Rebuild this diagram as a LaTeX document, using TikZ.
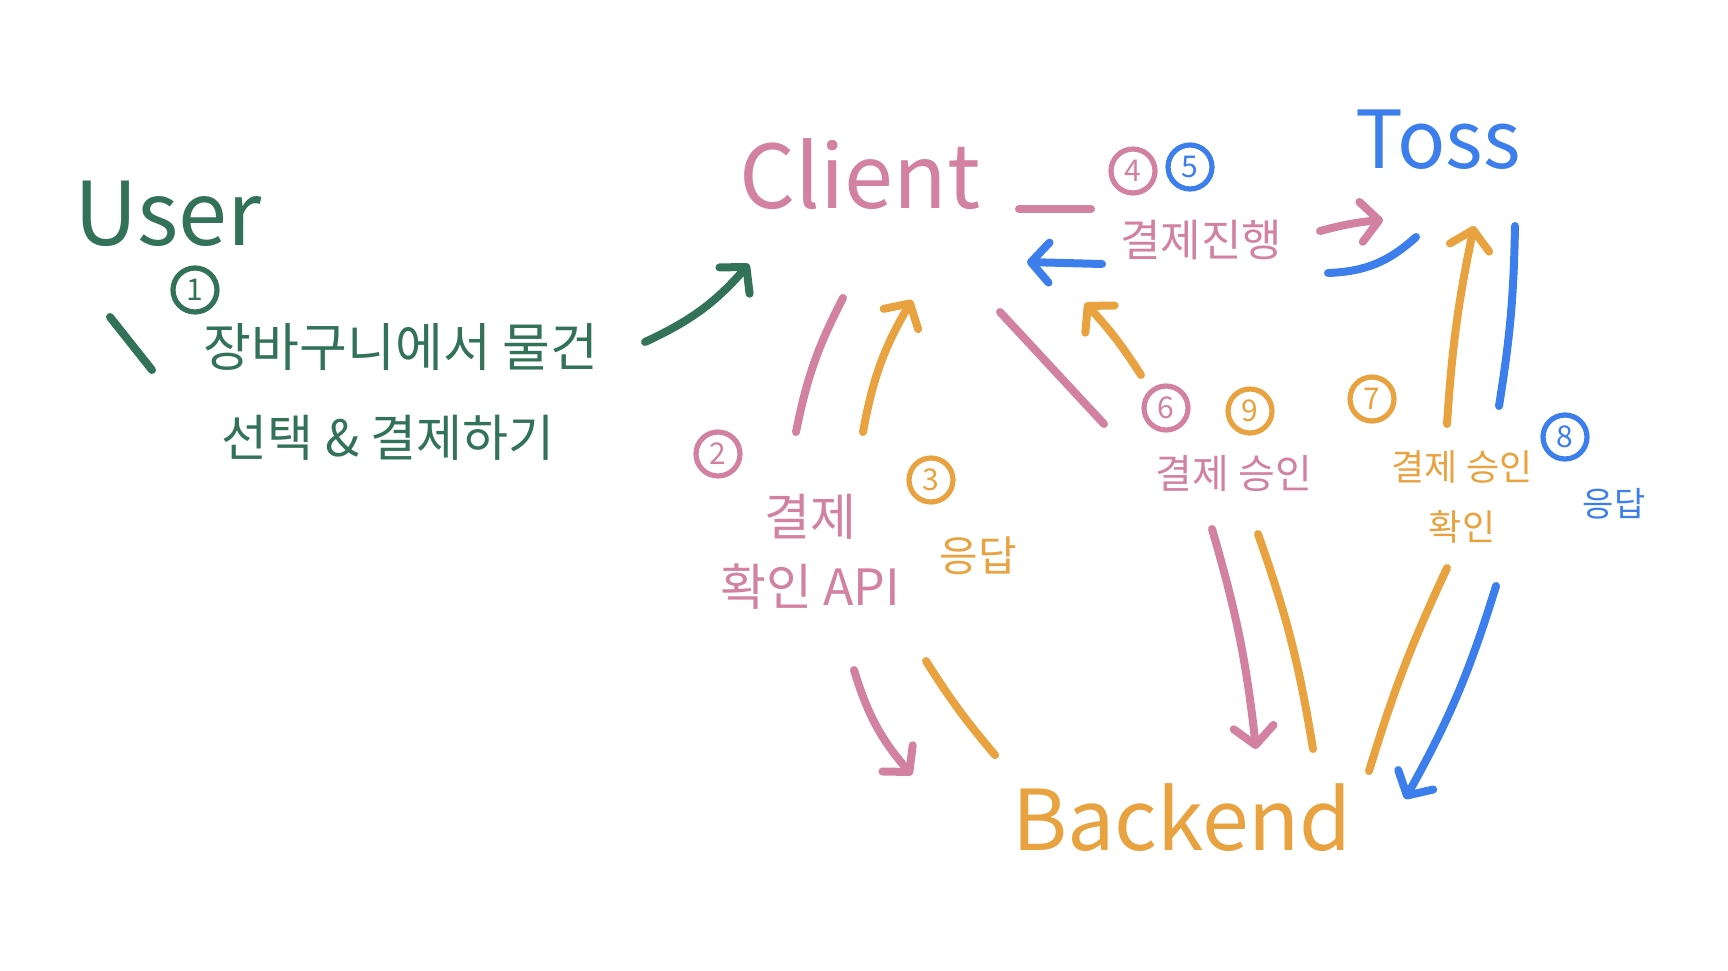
\documentclass[tikz,border=0pt]{standalone}
\usepackage{fontspec}
\setmainfont{Noto Sans CJK KR}
\usetikzlibrary{arrows.meta}
\definecolor{usergreen}{RGB}{49,114,88}
\definecolor{clientpink}{RGB}{210,130,160}
\definecolor{backorange}{RGB}{233,162,64}
\definecolor{tossblue}{RGB}{60,126,235}
\newcommand{\fsz}[1]{\fontsize{#1}{#1}\selectfont}

\begin{document}
\begin{tikzpicture}[x=0.5pt, y=-0.5pt, every node/.style={font=\fsz{22}}]
\tikzstyle{pen}=[line width=4pt, line cap=round]
\tikzstyle{arr}=[pen, -{Straight Barb[length=9pt, width=20pt, round]}]
\tikzstyle{num}=[circle, draw, line width=2.6pt, minimum size=22pt, inner sep=0pt, font=\fsz{15}]
\useasboundingbox (0,0) rectangle (1728,970);

% the four actors
\node[usergreen, font=\fsz{44}] (user) at (168,214) {User};
\node[clientpink, font=\fsz{44}] (client) at (860,174) {Client};
\node[tossblue, font=\fsz{40}] (toss) at (1438,140) {Toss};
\node[backorange, font=\fsz{42}] (backend) at (1182,818) {Backend};

% 1: user picks items and pays
\node[num, usergreen] (n1) at (195,290) {1};
\node[usergreen, font=\fsz{26}] (cart) at (401,347) {장바구니에서 물건};
\node[usergreen, font=\fsz{25}] (pick) at (388,438) {선택 \& 결제하기};
\coordinate (u1) at (110,317); \coordinate (u2) at (152,370);
\draw[pen, usergreen] (u1) -- (u2);
\coordinate (g1) at (645,342); \coordinate (g2) at (749,264);
\draw[arr, usergreen] (g1) to[bend right=12] (g2);

% 2, 3: client <-> backend, confirm API
\node[num, clientpink] (n2) at (718,454) {2};
\node[clientpink, font=\fsz{25}, align=center] (api) at (810,552) {결제\\[10pt]확인 API};
\node[num, backorange] (n3) at (931,480) {3};
\node[backorange, font=\fsz{21}] (resp3) at (978,556) {응답};
\coordinate (c1) at (843,298); \coordinate (c2) at (796,432);
\draw[pen, clientpink] (c1) to[bend right=8] (c2);
\coordinate (c3) at (854,670); \coordinate (c4) at (912,775);
\draw[arr, clientpink] (c3) to[bend right=12] (c4);
\coordinate (o1) at (863,432); \coordinate (o2) at (912,300);
\draw[arr, backorange] (o1) to[bend left=10] (o2);
\coordinate (o3) at (995,755); \coordinate (o4) at (926,661);
\draw[pen, backorange] (o3) to[bend left=4] (o4);

% 4, 5: client <-> toss
\node[num, clientpink] (n4) at (1133,171) {4};
\node[num, tossblue] (n5) at (1190,167) {5};
\node[clientpink, font=\fsz{22}] (proc) at (1201,240) {결제진행};
\coordinate (p1) at (1019,209); \coordinate (p2) at (1091,209);
\draw[pen, clientpink] (p1) -- (p2);
\coordinate (p3) at (1320,231); \coordinate (p4) at (1383,220);
\draw[arr, clientpink] (p3) to[bend left=5] (p4);
\coordinate (t1) at (1102,264); \coordinate (t2) at (1027,262);
\draw[arr, tossblue] (t1) -- (t2);
\coordinate (t3) at (1328,273); \coordinate (t4) at (1416,237);
\draw[pen, tossblue] (t3) to[bend right=20] (t4);

% 6, 9: client <-> backend, approval
\node[num, clientpink] (n6) at (1166,408) {6};
\node[num, backorange] (n9) at (1250,411) {9};
\node[clientpink, font=\fsz{20}] (ok) at (1234,474) {결제 승인};
\coordinate (c5) at (1000,312); \coordinate (c6) at (1104,424);
\draw[pen, clientpink] (c5) -- (c6);
\coordinate (c7) at (1212,529); \coordinate (c8) at (1256,749);
\draw[arr, clientpink] (c7) to[bend left=5] (c8);
\coordinate (o5) at (1141,375); \coordinate (o6) at (1085,303);
\draw[arr, backorange] (o5) to[bend right=5] (o6);
\coordinate (o7) at (1313,749); \coordinate (o8) at (1258,534);
\draw[pen, backorange] (o7) to[bend right=5] (o8);

% 7, 8: backend <-> toss
\node[num, backorange] (n7) at (1372,399) {7};
\node[backorange, font=\fsz{18}, align=center] (okchk) at (1462,497) {결제 승인\\[12pt]확인};
\node[num, tossblue] (n8) at (1565,437) {8};
\node[tossblue, font=\fsz{17}] (resp8) at (1614,504) {응답};
\coordinate (o9) at (1369,771); \coordinate (o10) at (1447,568);
\draw[pen, backorange] (o9) to[bend left=4] (o10);
\coordinate (o11) at (1447,424); \coordinate (o12) at (1474,226);
\draw[arr, backorange] (o11) to[bend left=4] (o12);
\coordinate (t5) at (1515,226); \coordinate (t6) at (1499,406);
\draw[pen, tossblue] (t5) to[bend left=4] (t6);
\coordinate (t7) at (1496,586); \coordinate (t8) at (1405,799);
\draw[arr, tossblue] (t7) to[bend left=6] (t8);
\end{tikzpicture}
\end{document}
